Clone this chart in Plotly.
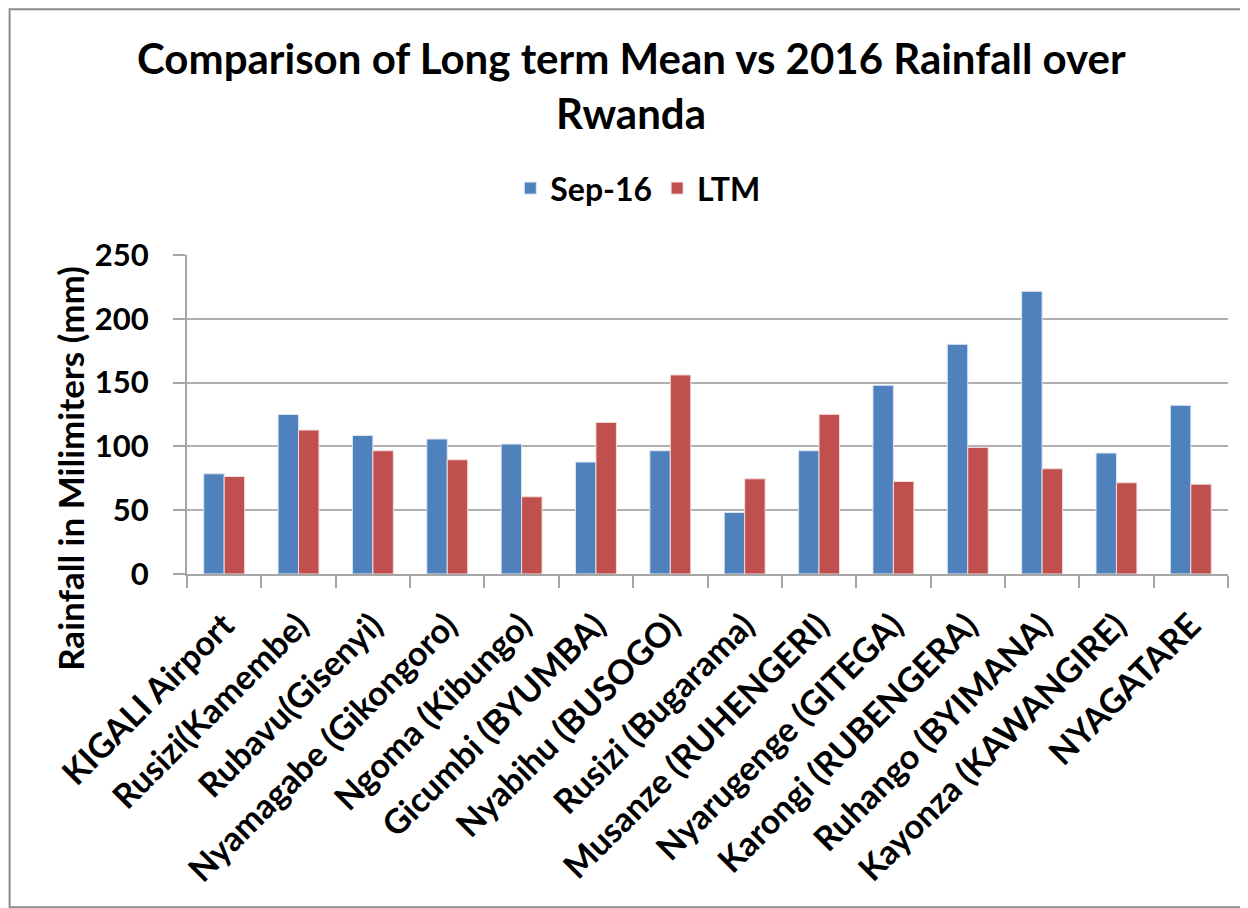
import plotly.graph_objects as go

stations = ["KIGALI Airport", "Rusizi(Kamembe)", "Rubavu(Gisenyi)", "Nyamagabe (Gikongoro)",
            "Ngoma (Kibungo)", "Gicumbi (BYUMBA)", "Nyabihu (BUSOGO)", "Rusizi (Bugarama)",
            "Musanze (RUHENGERI)", "Nyarugenge (GITEGA)", "Karongi (RUBENGERA)",
            "Ruhango (BYIMANA)", "Kayonza (KAWANGIRE)", "NYAGATARE"]
sep16 = [78.5, 125, 108.6, 105.8, 101.8, 87.7, 96.6, 48.2, 96.6, 147.9, 180, 221.5, 94.8, 132.2]
ltm = [76.4, 112.8, 96.6, 89.5, 60.5, 118.8, 156, 74.6, 125.1, 72.5, 99.2, 82.5, 71.5, 70.4]
yticks = [0, 50, 100, 150, 200, 250]
title_lines = ["Comparison of Long term Mean vs 2016 Rainfall over", "Rwanda"]
y_title = "Rainfall in Milimiters (mm)"

FONT = "Lato, Liberation Sans, Arial, sans-serif"
OFF = 8  # page offset of the figure inside the browser window

W, H = 1240, 900
L, R, T = 186.5 - OFF, 20, 254.7 - OFF
B = H - (573.7 - OFF)
pw, ph = W - L - R, H - T - B


def px(x):
    return (x - OFF - L) / pw


def py(y):
    return (H - B - (y - OFF)) / ph


fig = go.Figure()
fig.add_trace(go.Bar(name="<b>Sep-16</b>", x=stations, y=sep16,
                     marker=dict(color="#4F81BD", line=dict(color="#dce6f2", width=1))))
fig.add_trace(go.Bar(name="<b>LTM</b>", x=stations, y=ltm,
                     marker=dict(color="#C0504D", line=dict(color="#f2dcdb", width=1))))

fig.update_layout(
    width=W, height=H,
    margin=dict(l=L, r=R, t=T, b=B, autoexpand=False),
    paper_bgcolor="white", plot_bgcolor="white",
    barmode="group", bargap=0.45, bargroupgap=0,
    font=dict(family=FONT, color="black"),
    legend=dict(orientation="h", x=px(638), xanchor="center", y=py(188), yanchor="middle",
                font=dict(size=32, family=FONT, color="black"),
                traceorder="normal", itemwidth=30),
    showlegend=True,
    xaxis=dict(type="category", tickangle=-45, showgrid=False,
               tickvals=stations, ticktext=[f"<b>{s}</b>" for s in stations],
               tickfont=dict(size=34, family=FONT, color="black"),
               ticks="outside", tickson="boundaries", ticklen=12, tickcolor="#a6a6a6",
               tickwidth=2, ticklabelstandoff=16,
               showline=True, linecolor="#a6a6a6", linewidth=2),
    yaxis=dict(range=[0, 250], tickvals=yticks, ticktext=[f"<b>{v}</b>" for v in yticks],
               tickfont=dict(size=31, family=FONT, color="black"),
               showgrid=True, gridcolor="#b0b0b0", gridwidth=2,
               ticks="outside", ticklen=12, tickcolor="#a6a6a6", tickwidth=2,
               ticklabelstandoff=18,
               showline=True, linecolor="#a6a6a6", linewidth=2, zeroline=False),
)

# title (two lines, as in the reference)
fig.add_annotation(text=f"<b>{title_lines[0]}</b>", xref="paper", yref="paper",
                   x=px(631), y=py(58), xanchor="center", yanchor="middle", showarrow=False,
                   font=dict(size=42, family=FONT, color="black"))
fig.add_annotation(text=f"<b>{title_lines[1]}</b>", xref="paper", yref="paper",
                   x=px(631), y=py(113), xanchor="center", yanchor="middle", showarrow=False,
                   font=dict(size=42, family=FONT, color="black"))
# y axis title
fig.add_annotation(text=f"<b>{y_title}</b>", xref="paper", yref="paper",
                   x=px(70), y=py(468), xanchor="center", yanchor="middle", showarrow=False,
                   textangle=-90, font=dict(size=35, family=FONT, color="black"))

# chart border
fig.add_shape(type="rect", xref="paper", yref="paper",
              x0=px(9), x1=px(1245), y0=py(907), y1=py(9),
              line=dict(color="#8c8c8c", width=2), fillcolor="rgba(0,0,0,0)", layer="below")

fig.write_html("out.html")
